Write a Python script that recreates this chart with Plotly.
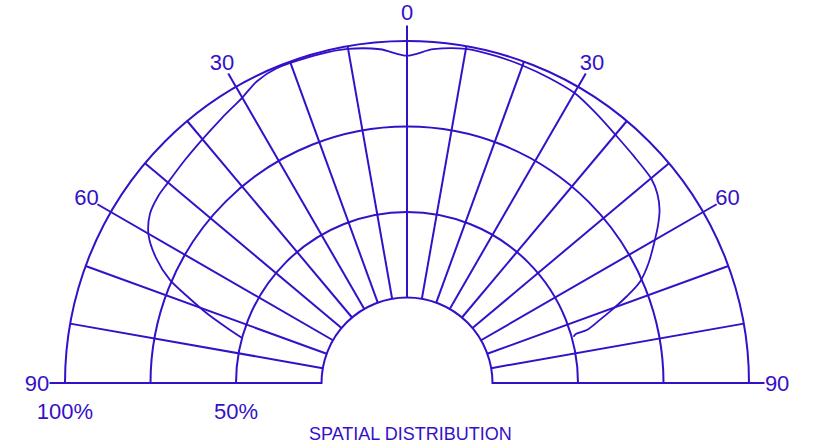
import plotly.graph_objects as go

# Spatial distribution curve (angle in degrees, relative intensity in %)
curve_theta = [-74.7, -73.0, -70.8, -68.5, -66.5, -63.5, -60.2, -56.6, -53.0, -50.2,
               -45.0, -40.2, -35.0, -30.1, -26.5, -22.5, -15.0, -10.0, -4.6, 0.0,
               4.5, 10.0, 15.0, 20.0, 25.0, 30.1, 35.0, 40.3, 45.0, 50.2,
               53.0, 55.6, 58.0, 60.0, 63.5, 66.5, 68.5, 70.4, 72.0, 73.6,
               73.8, 74.5]
curve_r = [50.1, 55.0, 62.0, 69.0, 75.6, 82.0, 87.1, 90.0, 91.0, 91.2,
           92.0, 93.0, 94.5, 96.3, 98.5, 99.6, 99.5, 99.2, 97.9, 95.7,
           97.9, 99.2, 99.1, 98.8, 98.4, 97.9, 96.3, 94.7, 93.8, 93.1,
           91.7, 89.5, 86.5, 83.7, 79.0, 74.3, 69.0, 63.5, 59.0, 54.8,
           51.5, 50.5]

grid_angles = list(range(-90, 91, 10))
label_angles = [-90, -60, -30, 0, 30, 60, 90]
label_text = ["90", "60", "30", "0", "30", "60", "90"]
radial_grid = [25, 50, 75, 100]
radial_label_vals = [50, 100]
radial_label_text = ["50%", "100%"]

C = "#3410c8"
FONT = "Liberation Sans, Arial, sans-serif"
W, H = 814, 443

# main half-disc: centre (407, 383), outer radius 342 px
main_dom = dict(x=[65 / W, 749 / W], y=[(H - 383) / H, (H - 41) / H])
# concentric, slightly larger half-disc used only to place the angle labels
lab_dom = dict(x=[27 / W, 787 / W], y=[(H - 385) / H, (H - 5) / H])
LABEL_R = 97.4
# same-size half-disc lowered to place the percentage labels under the base line
pct_dom = dict(x=[65 / W, 749 / W], y=[(H - 413) / H, (H - 71) / H])

fig = go.Figure()
fig.add_trace(go.Scatterpolar(r=curve_r, theta=curve_theta, mode="lines",
                              line=dict(color=C, width=1.8, shape="spline", smoothing=0.8),
                              subplot="polar", showlegend=False, hoverinfo="skip"))
fig.add_trace(go.Scatterpolar(r=[None], theta=[None], mode="lines",
                              subplot="polar2", showlegend=False, hoverinfo="skip"))
fig.add_trace(go.Scatterpolar(r=[LABEL_R] * len(label_angles), theta=label_angles,
                              mode="text", text=label_text, textposition="middle center",
                              cliponaxis=False,
                              textfont=dict(size=22, color=C, family=FONT),
                              subplot="polar3", showlegend=False, hoverinfo="skip"))
fig.add_trace(go.Scatterpolar(r=radial_label_vals, theta=[-90] * len(radial_label_vals),
                              mode="text", text=radial_label_text,
                              textposition="middle center", cliponaxis=False,
                              textfont=dict(size=22, color=C, family=FONT),
                              subplot="polar4", showlegend=False, hoverinfo="skip"))

hidden = dict(bgcolor="rgba(0,0,0,0)", sector=[0, 180])

fig.update_layout(
    width=W, height=H,
    margin=dict(l=0, r=0, t=0, b=0),
    paper_bgcolor="white",
    font=dict(family=FONT, color=C, size=22),
    polar=dict(
        domain=main_dom, sector=[0, 180], hole=0.25,
        bgcolor="white",
        radialaxis=dict(range=[25, 100], tickmode="array", tickvals=radial_grid,
                        showticklabels=False, angle=180,
                        showline=True, linecolor=C, linewidth=2,
                        showgrid=True, gridcolor=C, gridwidth=2, ticks=""),
        angularaxis=dict(rotation=90, direction="clockwise", tickmode="array",
                         tickvals=grid_angles, showticklabels=False,
                         showline=True, linecolor=C, linewidth=2,
                         showgrid=True, gridcolor=C, gridwidth=2, ticks=""),
    ),
    polar2=dict(
        domain=main_dom, hole=0.25, **hidden,
        radialaxis=dict(range=[25, 100], visible=False),
        angularaxis=dict(rotation=90, direction="clockwise", tickmode="array",
                         tickvals=label_angles, showticklabels=False,
                         showline=False, showgrid=False, ticks="outside",
                         ticklen=15, tickwidth=2, tickcolor=C),
    ),
    polar3=dict(
        domain=lab_dom, **hidden,
        radialaxis=dict(range=[0, 100], visible=False),
        angularaxis=dict(rotation=90, direction="clockwise", visible=False),
    ),
    polar4=dict(
        domain=pct_dom, hole=0.25, **hidden,
        radialaxis=dict(range=[25, 100], visible=False),
        angularaxis=dict(rotation=90, direction="clockwise", visible=False),
    ),
    annotations=[dict(text="SPATIAL DISTRIBUTION", x=0.504, y=(H - 434) / H,
                      xref="paper", yref="paper", xanchor="center", yanchor="middle",
                      showarrow=False, font=dict(size=18, color=C, family=FONT))],
)

fig.write_html("out.html", config={"displayModeBar": False},
               post_script="document.body.style.margin='0';document.body.style.padding='0';")
